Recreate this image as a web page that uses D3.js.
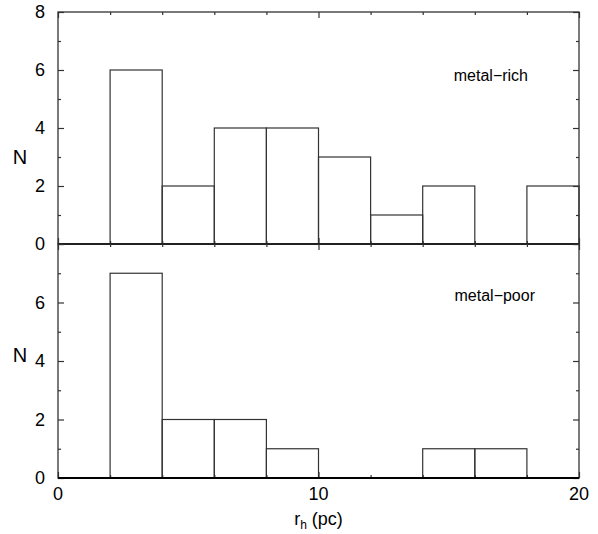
<!DOCTYPE html>
<html>
<head>
<meta charset="utf-8">
<script src="https://cdn.jsdelivr.net/npm/d3@7"></script>
<style>
  body { margin: 0; background: #fff; }
  text { font-family: "Liberation Sans", Arial, sans-serif; fill: #000; }
</style>
</head>
<body>
<div id="chart"></div>
<script>
// histogram bins (r_h in pc) and counts
var binEdges = [2, 4, 6, 8, 10, 12, 14, 16, 18, 20];
var richCounts = [6, 2, 4, 4, 3, 1, 2, 0, 2];
var poorCounts = [7, 2, 2, 1, 0, 0, 1, 1, 0];
var xTickLabels = [0, 10, 20];
var richYLabels = [0, 2, 4, 6, 8];
var poorYLabels = [0, 2, 4, 6];

var width = 598, height = 534;
var left = 58, right = 579;

var svg = d3.select("#chart").append("svg")
  .attr("width", width)
  .attr("height", height);

var x = d3.scaleLinear().domain([0, 20]).range([left, right]);

var panels = [
  { counts: richCounts, label: "metal-rich", top: 12, bottom: 244, yLabels: richYLabels, nY: 157, labelX: 528, labelY: 81 },
  { counts: poorCounts, label: "metal-poor", top: 244, bottom: 478, yLabels: poorYLabels, nY: 355, labelX: 535, labelY: 301 }
];

var bins = richCounts.map(function (d, i) { return [binEdges[i], binEdges[i + 1]]; });

panels.forEach(function (p) {
  var y = d3.scaleLinear().domain([0, 8]).range([p.bottom, p.top]);
  var g = svg.append("g");

  // bars
  g.selectAll(".bar")
    .data(p.counts.map(function (c, i) { return { x0: bins[i][0], x1: bins[i][1], n: c }; }).filter(function (d) { return d.n > 0; }))
    .enter().append("rect")
    .attr("class", "bar")
    .attr("x", function (d) { return x(d.x0); })
    .attr("width", function (d) { return x(d.x1) - x(d.x0); })
    .attr("y", function (d) { return y(d.n); })
    .attr("height", function (d) { return y(0) - y(d.n); })
    .attr("fill", "none")
    .attr("stroke", "#333")
    .attr("stroke-width", 1.2);

  // inward ticks
  var yMajor = [0, 2, 4, 6, 8], yMinor = [1, 3, 5, 7];
  var xMajor = [0, 10, 20], xMinor = [2, 4, 6, 8, 12, 14, 16, 18];

  function tickAxis(axis, tx, ty, vals, size) {
    g.append("g")
      .attr("transform", "translate(" + tx + "," + ty + ")")
      .call(axis.tickValues(vals).tickSize(size).tickFormat(""))
      .call(function (a) { a.select(".domain").remove(); });
  }
  tickAxis(d3.axisRight(y), left, 0, yMajor, 6);
  tickAxis(d3.axisRight(y), left, 0, yMinor, 3);
  tickAxis(d3.axisLeft(y), right, 0, yMajor, 6);
  tickAxis(d3.axisLeft(y), right, 0, yMinor, 3);
  tickAxis(d3.axisBottom(x), 0, p.top, xMajor, 6);
  tickAxis(d3.axisBottom(x), 0, p.top, xMinor, 3);
  tickAxis(d3.axisTop(x), 0, p.bottom, xMajor, 6);
  tickAxis(d3.axisTop(x), 0, p.bottom, xMinor, 3);

  g.selectAll(".tick line").attr("stroke", "#333").attr("stroke-width", 1.2);

  // frame
  g.append("rect")
    .attr("x", left).attr("y", p.top)
    .attr("width", right - left).attr("height", p.bottom - p.top)
    .attr("fill", "none").attr("stroke", "#333").attr("stroke-width", 1.3);

  // zero line
  g.append("line")
    .attr("x1", left).attr("x2", right)
    .attr("y1", y(0)).attr("y2", y(0))
    .attr("stroke", "#000").attr("stroke-width", 2);

  // y labels
  g.selectAll(".ylab")
    .data(p.yLabels)
    .enter().append("text")
    .attr("class", "ylab")
    .attr("x", left - 13)
    .attr("y", function (d) { return y(d); })
    .attr("dy", "0.36em")
    .attr("text-anchor", "end")
    .style("font-size", "18px")
    .text(function (d) { return d; });

  g.append("text")
    .attr("x", 20)
    .attr("y", p.nY)
    .attr("dy", "0.36em")
    .attr("text-anchor", "middle")
    .style("font-size", "20px")
    .text("N");

  g.append("text")
    .attr("x", p.labelX)
    .attr("y", p.labelY)
    .attr("text-anchor", "end")
    .style("font-size", "16px")
    .text(p.label.replace("-", "\u2212"));
});

// x labels
svg.selectAll(".xlab")
  .data(xTickLabels)
  .enter().append("text")
  .attr("class", "xlab")
  .attr("x", function (d) { return x(d); })
  .attr("y", 500)
  .attr("text-anchor", "middle")
  .style("font-size", "18px")
  .text(function (d) { return d; });

var xt = svg.append("text")
  .attr("x", x(10))
  .attr("y", 525)
  .attr("text-anchor", "middle")
  .style("font-size", "18px");
xt.append("tspan").text("r");
xt.append("tspan").attr("dy", 4).style("font-size", "12px").text("h");
xt.append("tspan").attr("dy", -4).text(" (pc)");
</script>
</body>
</html>
